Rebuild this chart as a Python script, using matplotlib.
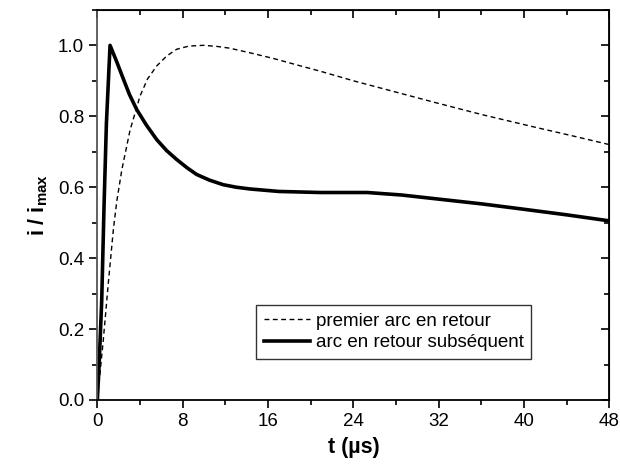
import numpy as np
import matplotlib.pyplot as plt
from matplotlib.ticker import MultipleLocator

plt.rcParams['font.family'] = ['Liberation Sans', 'DejaVu Sans']

# premier arc en retour (dashed)
t_first = [0, 0.25, 0.56, 1.03, 1.5, 1.82, 2.3, 3.06, 4.0, 4.7, 5.57, 6.5, 7.44, 8.6,
           9.94, 11.2, 12.4, 14.3, 16.5, 18.8, 20.9, 24.0, 28.0, 31.5, 36.0, 40.9,
           44.5, 48.0]
i_first = [0, 0.075, 0.17, 0.33, 0.48, 0.56, 0.65, 0.76, 0.857, 0.905, 0.942, 0.97,
           0.989, 0.998, 1.0, 0.997, 0.992, 0.979, 0.963, 0.944, 0.927, 0.9, 0.868,
           0.84, 0.805, 0.77, 0.745, 0.72]

# arc en retour subséquent (solid)
t_sub = [0, 0.16, 0.41, 0.63, 0.85, 1.19, 1.8, 2.44, 3.0, 3.69, 4.6, 5.57, 6.5, 7.44,
         8.4, 9.3, 10.5, 11.8, 13.0, 14.3, 17.0, 20.9, 25.3, 28.5, 32.1, 36.0, 39.4,
         44.0, 48.0]
i_sub = [0, 0.094, 0.28, 0.55, 0.78, 1.0, 0.955, 0.905, 0.862, 0.819, 0.775, 0.734,
         0.703, 0.678, 0.655, 0.636, 0.62, 0.607, 0.6, 0.595, 0.588, 0.585, 0.585,
         0.578, 0.566, 0.553, 0.54, 0.522, 0.505]

fig, ax = plt.subplots(figsize=(6.2, 4.7), dpi=100)
fig.subplots_adjust(left=0.157, right=0.983, top=0.979, bottom=0.149)

ax.plot(t_first, i_first, color='black', linestyle=(0, (3.5, 2.5)), linewidth=1.0,
        label='premier arc en retour')
ax.plot(t_sub, i_sub, color='black', linewidth=2.6, label='arc en retour subséquent')

ax.set_xlim(0, 48)
ax.set_ylim(0, 1.1)
ax.xaxis.set_major_locator(MultipleLocator(8))
ax.xaxis.set_minor_locator(MultipleLocator(4))
ax.yaxis.set_major_locator(MultipleLocator(0.2))
ax.yaxis.set_minor_locator(MultipleLocator(0.1))
ax.yaxis.set_major_formatter(plt.FuncFormatter(lambda v, p: f'{v:.1f}'))

ax.tick_params(which='both', direction='out', width=1.2, labelsize=13.5)
ax.tick_params(which='major', length=6)
ax.tick_params(which='minor', length=3.5)
for s in ax.spines.values():
    s.set_linewidth(1.3)
ax.spines['left'].set_color('#555555')

# inward ticks on top and right
sec_x = ax.secondary_xaxis('top')
sec_x.xaxis.set_major_locator(MultipleLocator(8))
sec_x.xaxis.set_minor_locator(MultipleLocator(4))
sec_x.tick_params(which='both', direction='in', labeltop=False, width=1.2)
sec_x.tick_params(which='major', length=6)
sec_x.tick_params(which='minor', length=3.5)
sec_y = ax.secondary_yaxis('right')
sec_y.yaxis.set_major_locator(MultipleLocator(0.2))
sec_y.yaxis.set_minor_locator(MultipleLocator(0.1))
sec_y.tick_params(which='both', direction='in', labelright=False, width=1.2)
sec_y.tick_params(which='major', length=6)
sec_y.tick_params(which='minor', length=3.5)

ax.set_xlabel('t (µs)', fontsize=15.5, fontweight='bold', labelpad=5)
ax.set_ylabel(r'i / i$_{\mathregular{max}}$', fontsize=15.5, fontweight='bold', labelpad=6)

leg = ax.legend(loc='lower left', bbox_to_anchor=(0.31, 0.105), fontsize=13.5,
                frameon=True, fancybox=False, edgecolor='black', handlelength=2.45,
                borderpad=0.42, labelspacing=0.22, handletextpad=0.3,
                borderaxespad=0)
leg.get_frame().set_linewidth(1.0)

fig.savefig('out.png', dpi=100)
